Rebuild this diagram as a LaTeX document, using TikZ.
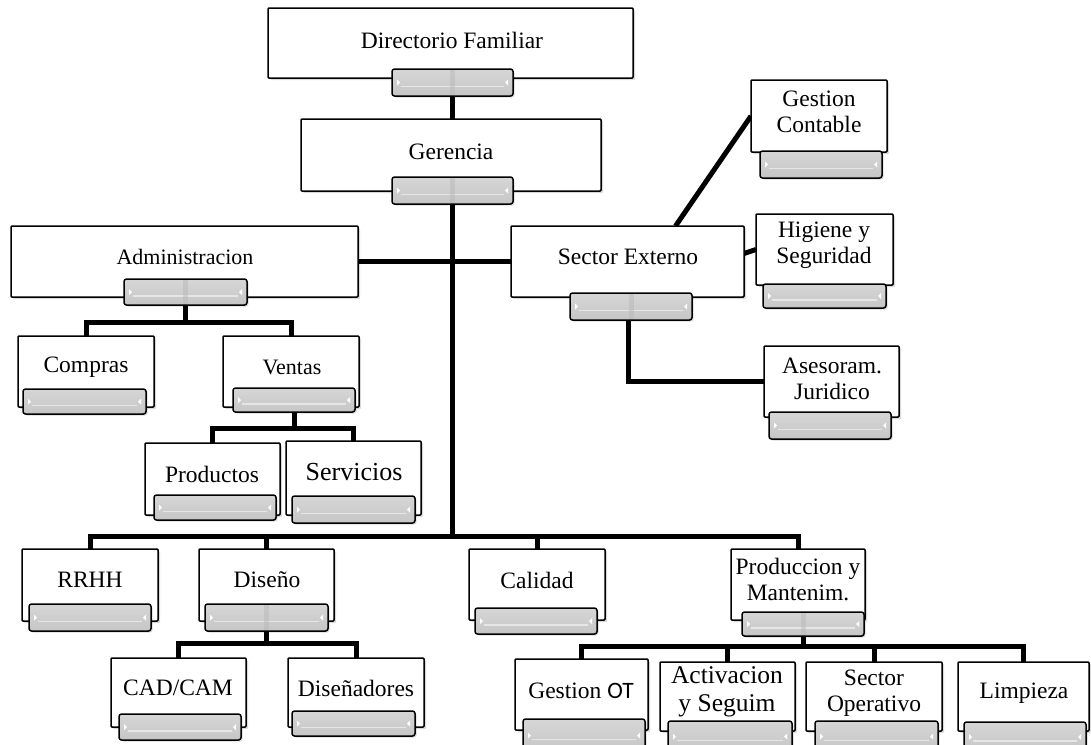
\documentclass[tikz,border=0pt]{standalone}
\usepackage{fontspec}
\setmainfont{Liberation Serif}
\newfontfamily\calibfont{Carlito}
\usetikzlibrary{shadows,backgrounds}
\definecolor{tabtop}{RGB}{214,214,214}
\definecolor{tabbot}{RGB}{198,198,198}
\definecolor{tabline}{RGB}{230,230,230}
\newcommand\tabdeco{%
  \draw[tabline, line width=1.6pt, sharp corners] ([xshift=9pt,yshift=-4pt]path picture bounding box.west) -- ([xshift=-9pt,yshift=-4pt]path picture bounding box.east);
  \fill[white, sharp corners] ([xshift=5pt,yshift=3pt]path picture bounding box.west) -- ([xshift=8pt]path picture bounding box.west) -- ([xshift=5pt,yshift=-3pt]path picture bounding box.west) -- cycle;
  \fill[white, sharp corners] ([xshift=-5pt,yshift=3pt]path picture bounding box.east) -- ([xshift=-8pt]path picture bounding box.east) -- ([xshift=-5pt,yshift=-3pt]path picture bounding box.east) -- cycle;
}
\newcommand\ubox[5]{\node[ubox, minimum width={#4-#2}, minimum height={#5-#3}] (#1) at ({(#2+#4)/2},{(#3+#5)/2}) {};}
\newcommand\utab[5]{\node[utab, minimum width={#4-#2}, minimum height={#5-#3}] (#1) at ({(#2+#4)/2},{(#3+#5)/2}) {};}
\newcommand\utabm[5]{\node[utabm, minimum width={#4-#2}, minimum height={#5-#3}] (#1) at ({(#2+#4)/2},{(#3+#5)/2}) {};}
\begin{document}
\begin{tikzpicture}[x=1pt,y=-1pt,
  ubox/.style={draw=black, line width=1.5pt, fill=white, rounded corners=1pt, inner sep=0pt, outer sep=0pt,
    drop shadow={shadow xshift=2pt, shadow yshift=-2pt, opacity=.15, fill=black}},
  utab/.style={draw=black, line width=1.5pt, rounded corners=2.5pt, top color=tabtop, bottom color=tabbot, inner sep=0pt, outer sep=0pt,
    drop shadow={shadow xshift=1.5pt, shadow yshift=-1.5pt, opacity=.15, fill=black},
    path picture={\tabdeco}},
  utabm/.style={utab, path picture={\tabdeco
    \fill[gray!55, opacity=.5, sharp corners] ([xshift=-2.5pt]path picture bounding box.north) rectangle ([xshift=2.5pt]path picture bounding box.south);}},
  lbl/.style={font=\fontsize{23.5}{26}\selectfont, align=center, inner sep=0pt},
  lbls/.style={font=\fontsize{22}{25}\selectfont, align=center, inner sep=0pt},
  conn/.style={line width=5pt, black, line join=miter}]
\useasboundingbox (0,0) rectangle (1091,744);

% boxes and tabs
\ubox{df}{268}{8}{633}{78}      \utabm{df-t}{392}{69}{513}{96}
\node[lbl] (df-l) at (452,40) {Directorio Familiar};
\ubox{ger}{301}{119}{601}{191}  \utabm{ger-t}{392}{177}{513}{204}
\node[lbl] (ger-l) at (451,152) {Gerencia};
\ubox{adm}{11}{226}{358}{297}   \utabm{adm-t}{124}{279}{247}{305}
\node[lbls] (adm-l) at (185,257) {Administracion};
\ubox{comp}{18}{336}{154}{407}  \utab{comp-t}{23}{389}{146}{414}
\node[lbl] (comp-l) at (86,367) {Compras};
\ubox{ven}{223}{336}{359}{407}  \utab{ven-t}{233}{388}{355}{412}
\node[lbls] (ven-l) at (292,367) {Ventas};
\ubox{prod}{145}{443}{280}{515} \utab{prod-t}{154}{495}{276}{520}
\node[lbl] (prod-l) at (212,474) {Productos};
\ubox{serv}{286}{441}{421}{515} \utab{serv-t}{292}{496}{415}{523}
\node[lbl, font=\fontsize{26}{28}\selectfont] (serv-l) at (354,472) {Servicios};
\ubox{se}{511}{226}{744}{297}   \utabm{se-t}{570}{293}{692}{320}
\node[lbl] (se-l) at (628,257) {Sector Externo};
\ubox{gc}{751}{80}{887}{152}    \utab{gc-t}{760}{151}{882}{178}
\node[lbl] (gc-l) at (819,112) {Gestion\\Contable};
\ubox{hs}{756}{214}{893}{285}   \utab{hs-t}{763}{284}{886}{308}
\node[lbl] (hs-l) at (824,245) {Higiene y\\Seguridad};
\ubox{aj}{764}{346}{899}{417}   \utab{aj-t}{769}{412}{891}{439}
\node[lbl] (aj-l) at (832,379) {Asesoram.\\Juridico};
\ubox{rrhh}{22}{549}{158}{621}  \utab{rrhh-t}{29}{604}{151}{631}
\node[lbl] (rrhh-l) at (90,580) {RRHH};
\ubox{dis}{199}{549}{334}{621}  \utabm{dis-t}{205}{604}{328}{631}
\node[lbl] (dis-l) at (267,580) {Diseño};
\ubox{cal}{469}{549}{605}{620}  \utab{cal-t}{475}{608}{597}{634}
\node[lbl] (cal-l) at (537,580) {Calidad};
\ubox{pm}{731}{549}{865}{620}   \utabm{pm-t}{742}{612}{864}{636}
\node[lbl] (pm-l) at (798,580) {Produccion y\\Mantenim.};
\ubox{cad}{111}{658}{246}{727}  \utab{cad-t}{119}{714}{241}{740}
\node[lbl] (cad-l) at (178,688) {CAD/CAM};
\ubox{disn}{288}{658}{424}{727} \utab{disn-t}{292}{711}{415}{736}
\node[lbl] (disn-l) at (356,688) {Diseñadores};
\ubox{got}{515}{659}{648}{730}  \utab{got-t}{523}{719}{645}{752}
\node[lbl] (got-l) at (581,691) {Gestion {\calibfont OT}};
\ubox{act}{660}{662}{795}{731}  \utab{act-t}{668}{721}{792}{752}
\node[lbl, font=\fontsize{25.5}{28}\selectfont] (act-l) at (727,692) {Activacion\\y Seguim};
\ubox{so}{806}{662}{942}{731}   \utab{so-t}{815}{721}{938}{752}
\node[lbl] (so-l) at (874,693) {Sector\\Operativo};
\ubox{lim}{958}{662}{1089}{731} \utab{lim-t}{964}{722}{1086}{752}
\node[lbl] (lim-l) at (1024,693) {Limpieza};

% junction levels
\coordinate (busY) at (0,536);
\coordinate (admY) at (0,322);
\coordinate (venY) at (0,428);
\coordinate (disY) at (0,643);
\coordinate (pmY) at (0,646);

\begin{scope}[on background layer]
\fill[white] (0,0) rectangle (1091,744);
\draw[conn] (df-t.south) -- (df-t.south |- ger.north);
\draw[conn] (ger-t.south) -- (ger-t.south |- busY);
\draw[conn] (rrhh.north) -- (rrhh.north |- busY) -| (pm.north);
\draw[conn] (dis.north) -- (dis.north |- busY);
\draw[conn] (cal.north) -- (cal.north |- busY);
\draw[conn] (adm.east) -- (se.west);
\draw[conn] (adm-t.south) -- (adm-t.south |- admY);
\draw[conn] (comp.north) -- (comp.north |- admY) -| (ven.north);
\draw[conn] (ven-t.south) -- (ven-t.south |- venY);
\draw[conn] (prod.north) -- (prod.north |- venY) -| (serv.north);
\draw[conn] ([xshift=48pt]se.north) -- (gc.west);
\draw[conn] ([yshift=8pt]se.east) -- (hs.west);
\draw[conn] ([xshift=-3pt]se-t.south) |- (aj.west);
\draw[conn] (dis-t.south) -- (dis-t.south |- disY);
\draw[conn] (cad.north) -- (cad.north |- disY) -| (disn.north);
\draw[conn] (pm-t.south) -- (pm-t.south |- pmY);
\draw[conn] (got.north) -- (got.north |- pmY) -| (lim.north);
\draw[conn] (act.north) -- (act.north |- pmY);
\draw[conn] (so.north) -- (so.north |- pmY);
\end{scope}
\end{tikzpicture}
\end{document}
